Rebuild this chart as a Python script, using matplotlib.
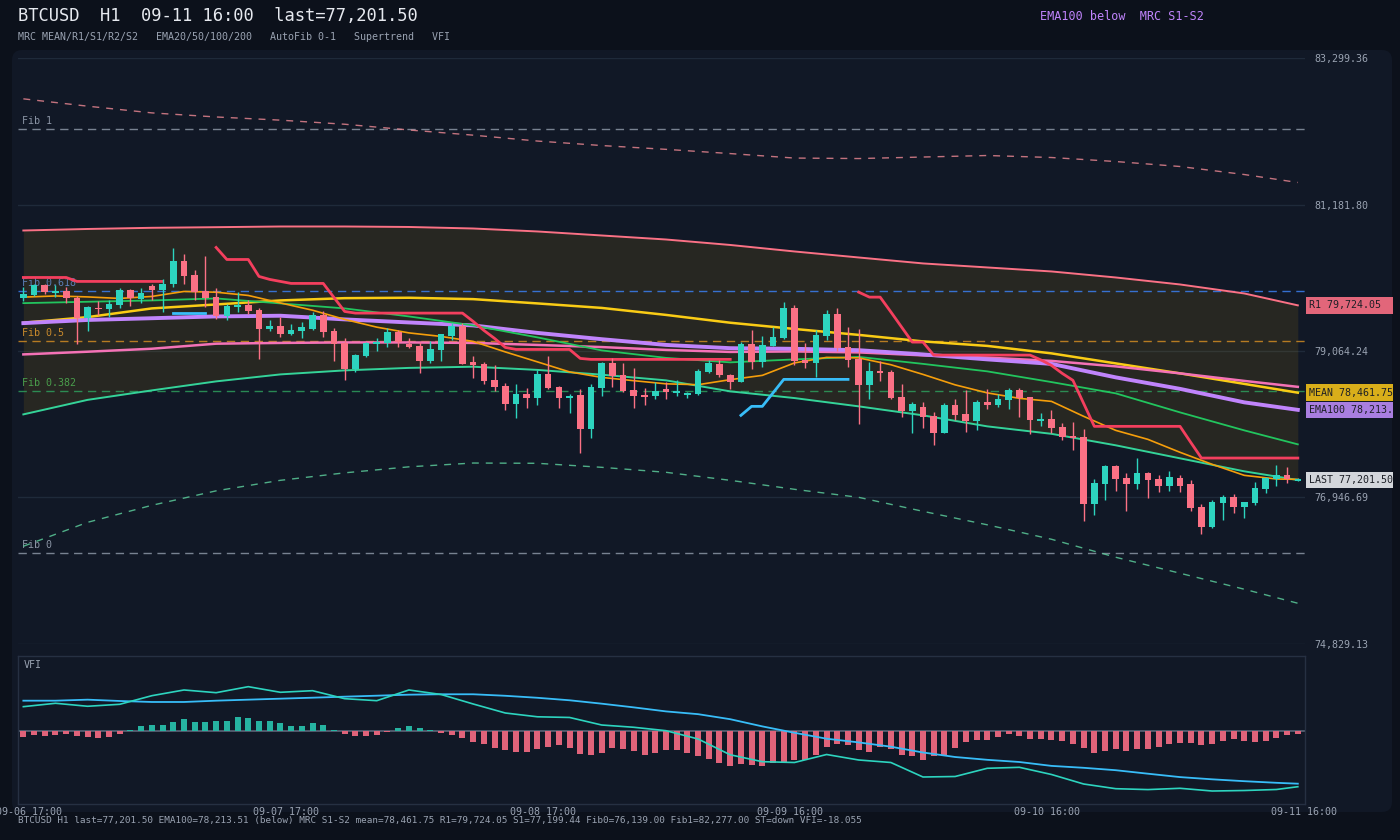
import matplotlib
matplotlib.use("Agg")
import matplotlib.pyplot as plt
import matplotlib.transforms as mtransforms
from matplotlib.patches import FancyBboxPatch, Rectangle
import numpy as np

plt.rcParams['font.family'] = ['DejaVu Sans Mono', 'DejaVu Sans']

# ------------------------------------------------------------------ data
opens = [79828, 79867, 80012, 79900, 79925, 79834, 79539, 79690, 79665, 79723,
         79940, 79810, 79997, 79940, 80036, 80358, 80156, 79925, 79838, 79568,
         79698, 79723, 79651, 79376, 79420, 79304, 79347, 79386, 79578, 79347,
         79180, 78798, 78986, 79170, 79180, 79333, 79160, 79135, 78918, 79073,
         79279, 79420, 78900, 78871, 78640, 78553, 78293, 78437, 78380, 78726,
         78538, 78380, 78423, 77932, 78524, 78885, 78712, 78495, 78423, 78408,
         78510, 78456, 78423, 78437, 78759, 78881, 78722, 78615, 79160, 78904,
         79135, 79246, 79680, 78928, 78889, 79275, 79593, 79116, 78947, 78567,
         78774, 78755, 78398, 78192, 78250, 78119, 77874, 78278, 78148, 78047,
         78322, 78278, 78351, 78495, 78394, 78047, 78076, 77960, 77830, 77816,
         76848, 77137, 77397, 77224, 77137, 77296, 77210, 77108, 77224, 77137,
         76805, 76516, 76863, 76950, 76805, 76863, 77065, 77210, 77267, 77190]
highs = [79983, 80026, 80026, 80012, 79987, 79853, 79708, 79785, 79795, 79978,
         79954, 79978, 80036, 80109, 80556, 80460, 80239, 80431, 79978, 79747,
         79911, 79805, 79690, 79506, 79554, 79458, 79482, 79626, 79640, 79395,
         79246, 79015, 79193, 79250, 79395, 79372, 79256, 79193, 79203, 79314,
         79467, 79473, 78986, 78900, 78856, 78606, 78582, 78534, 78784, 78986,
         78553, 78447, 78510, 78592, 78900, 78967, 78885, 78813, 78524, 78611,
         78611, 78640, 78466, 78798, 78928, 78939, 78726, 79188, 79362, 79275,
         79409, 79766, 79723, 79174, 79372, 79661, 79680, 79405, 79386, 78900,
         78914, 78784, 78582, 78322, 78322, 78177, 78307, 78365, 78499, 78351,
         78510, 78437, 78524, 78524, 78394, 78163, 78206, 78022, 78033, 77932,
         77210, 77411, 77411, 77296, 77513, 77311, 77267, 77325, 77267, 77195,
         76848, 76906, 76978, 76993, 76877, 77166, 77238, 77411, 77383, 77224]
lows = [79781, 79853, 79882, 79838, 79756, 79160, 79352, 79578, 79554, 79690,
        79713, 79762, 79795, 79626, 79987, 80036, 79805, 79698, 79525, 79506,
        79626, 79603, 78943, 79352, 79265, 79289, 79250, 79362, 79265, 78914,
        78640, 78759, 78972, 79058, 79121, 79121, 79102, 78745, 78889, 78918,
        79217, 78871, 78673, 78592, 78481, 78206, 78090, 78235, 78278, 78510,
        78235, 78163, 77585, 77802, 78408, 78538, 78466, 78235, 78278, 78365,
        78365, 78408, 78380, 78423, 78740, 78687, 78510, 78615, 78798, 78832,
        79135, 79236, 78860, 78823, 78687, 79227, 79063, 78832, 78004, 78365,
        78625, 78375, 78109, 77878, 77950, 77705, 77874, 78062, 77888, 77922,
        78221, 78250, 78221, 78105, 77859, 77975, 77874, 77773, 77628, 76607,
        76689, 76906, 77036, 76747, 77065, 76935, 77022, 77036, 77022, 76747,
        76415, 76502, 76617, 76718, 76646, 76834, 77007, 77108, 77152, 77180]
closes = [79882, 80012, 79915, 79929, 79828, 79539, 79694, 79665, 79742, 79940,
          79828, 79896, 79940, 80036, 80358, 80146, 79915, 79828, 79568, 79708,
          79723, 79636, 79376, 79420, 79304, 79362, 79405, 79578, 79337, 79164,
          78798, 79001, 79184, 79193, 79333, 79193, 79116, 78918, 79087, 79304,
          79420, 78881, 78856, 78625, 78538, 78293, 78437, 78384, 78726, 78524,
          78380, 78419, 77932, 78538, 78885, 78697, 78481, 78408, 78394, 78481,
          78466, 78481, 78452, 78770, 78889, 78712, 78615, 79160, 78904, 79145,
          79261, 79680, 78918, 78889, 79289, 79593, 79106, 78933, 78567, 78770,
          78745, 78384, 78192, 78293, 78105, 77874, 78278, 78134, 78047, 78322,
          78278, 78365, 78495, 78380, 78062, 78076, 77946, 77820, 77806, 76848,
          77152, 77397, 77210, 77137, 77296, 77195, 77108, 77238, 77108, 76791,
          76516, 76877, 76950, 76805, 76877, 77080, 77224, 77267, 77210, 77201.5]

time_tick_idx = [0, 24, 48, 71, 95, 119]
time_tick_labels = ['09-06 17:00', '09-07 17:00', '09-08 17:00',
                    '09-09 16:00', '09-10 16:00', '09-11 16:00']
price_ticks = [83299.36, 81181.80, 79064.24, 76946.69, 74829.13]

# MRC + slow EMAs sampled every 6 bars
band_idx = [0, 6, 12, 18, 24, 30, 36, 42, 48, 54, 60, 66, 72, 78, 84, 90,
            96, 102, 108, 114, 119]
mrc_mean = [79473, 79554, 79680, 79737, 79795, 79828, 79834, 79814, 79752, 79687,
            79586, 79473, 79383, 79297, 79203, 79138, 79030, 78885, 78741, 78589,
            78461.75]
mrc_r1 = [80806, 80828, 80845, 80854, 80864, 80864, 80857, 80835, 80792, 80734,
          80676, 80597, 80503, 80416, 80330, 80272, 80214, 80127, 80026, 79896,
          79724.05]
mrc_s1 = [78148, 78358, 78495, 78625, 78726, 78784, 78820, 78837, 78791, 78722,
          78640, 78481, 78384, 78264, 78134, 77975, 77867, 77701, 77513, 77325,
          77199.44]
mrc_r2 = [82709, 82603, 82506, 82447, 82401, 82342, 82259, 82184, 82099, 82034,
          81979, 81918, 81853, 81846, 81868, 81890, 81861, 81803, 81731, 81615,
          81500]
mrc_s2 = [76242, 76588, 76834, 77043, 77195, 77303, 77390, 77445, 77441, 77383,
          77311, 77195, 77065, 76949, 76747, 76552, 76343, 76083, 75852, 75621,
          75418]
ema50 = [79756, 79776, 79795, 79824, 79752, 79680, 79564, 79434, 79261, 79073,
         78965, 78900, 78943, 78979, 78878, 78770, 78615, 78452, 78177, 77917,
         77715]
ema100 = [79467, 79513, 79538, 79564, 79574, 79521, 79477, 79434, 79326, 79235,
          79152, 79105, 79096, 79076, 79015, 78943, 78878, 78683, 78517, 78322,
          78213.51]
ema200 = [79015, 79054, 79097, 79170, 79181, 79188, 79188, 79181, 79152, 79121,
          79080, 79051, 79058, 79044, 79001, 78969, 78921, 78842, 78741, 78632,
          78546]

# EMA20 and VFI lines sampled every 3 bars
fast_idx = [0, 3, 6, 9, 12, 15, 18, 21, 24, 27, 30, 33, 36, 39, 42, 45, 48, 51,
            54, 57, 60, 63, 66, 69, 72, 75, 78, 81, 84, 87, 90, 93, 96, 99, 102,
            105, 108, 111, 114, 117, 119]
ema20 = [79843, 79860, 79846, 79824, 79853, 79925, 79914, 79867, 79759, 79654,
         79521, 79409, 79326, 79275, 79203, 79051, 78907, 78762, 78683, 78635,
         78590, 78577, 78650, 78712, 78892, 78972, 78965, 78866, 78726, 78575,
         78459, 78380, 78336, 78120, 77917, 77787, 77600, 77426, 77267, 77214,
         77209]
vfi = [7.88, 8.98, 8.01, 8.65, 11.44, 13.29, 12.41, 14.36, 12.54, 13.06,
       10.47, 9.82, 13.29, 11.83, 8.75, 5.83, 4.60, 4.38, 1.94, 1.20,
       0.10, -2.59, -7.71, -9.95, -10.21, -7.62, -9.40, -10.21, -14.91, -14.75,
       -12.09, -11.77, -14.10, -17.18, -18.70, -18.99, -18.57, -19.45, -19.29, -18.96,
       -18.055]
vfi_signal = [9.82, 9.82, 10.15, 9.72, 9.40, 9.40, 9.82, 10.15, 10.47, 10.79,
              11.12, 11.44, 11.77, 11.90, 11.90, 11.41, 10.76, 9.95, 8.85, 7.65,
              6.35, 5.45, 3.82, 1.49, -0.58, -2.50, -3.70, -5.09, -6.97, -8.43,
              -9.34, -10.05, -11.31, -11.93, -12.71, -13.84, -14.94, -15.66, -16.27, -16.79,
              -17.08]
vfi_hist = [-1.85, -1.20, -1.52, -1.20, -0.88, -1.52, -1.85, -2.17, -1.85, -0.88,
            0.42, 1.72, 2.04, 2.04, 3.01, 3.99, 3.01, 3.01, 3.34, 3.34,
            4.64, 4.31, 3.34, 3.34, 2.69, 1.72, 1.72, 2.69, 2.04, 0.42,
            -0.88, -1.52, -1.52, -1.20, -0.23, 1.07, 1.72, 1.07, 0.42, -0.55,
            -1.20, -2.17, -3.47, -4.12, -5.41, -6.06, -6.71, -6.71, -5.74, -5.09,
            -4.44, -5.41, -7.36, -7.68, -7.03, -5.41, -5.74, -6.39, -7.68, -7.03,
            -6.06, -6.06, -7.03, -8.01, -8.98, -10.28, -11.25, -10.60, -10.92, -11.25,
            -10.28, -10.05, -9.30, -9.30, -7.68, -5.09, -4.12, -4.44, -6.06, -6.71,
            -5.09, -5.74, -7.68, -8.01, -9.30, -8.01, -8.01, -5.41, -3.47, -2.82,
            -2.82, -1.85, -0.88, -1.52, -2.50, -2.50, -2.82, -3.14, -4.12, -5.41,
            -7.03, -6.39, -5.74, -6.39, -5.74, -5.74, -5.09, -4.12, -3.79, -3.79,
            -4.44, -4.12, -3.14, -2.50, -3.14, -3.47, -3.14, -2.17, -1.20, -0.88]

# Supertrend segments (start bar, values)
st_dn1_start = 0
st_dn1 = [80127, 80127, 80127, 80127, 80127, 80070, 80070, 80070, 80070, 80070,
          80070, 80070, 80070, 80070]
st_up1_start = 14
st_up1 = [79607, 79607, 79607, 79607]
st_dn2_start = 18
st_dn2 = [80561, 80387, 80387, 80387, 80142, 80099, 80070, 80041, 80041, 80041,
          80041, 79838, 79636, 79612, 79612, 79612, 79612, 79612, 79612, 79612,
          79612, 79612, 79612, 79612, 79492, 79362, 79246, 79116, 79087, 79087,
          79087, 79087, 79087, 79087, 78957, 78943, 78943, 78943, 78943, 78943,
          78943, 78943, 78943, 78943, 78943, 78943, 78943, 78943, 78943]
st_up2_start = 67
st_up2 = [78134, 78264, 78264, 78459, 78654, 78654, 78654, 78654, 78654, 78654,
          78654]
st_dn3_start = 78
st_dn3 = [79915, 79843, 79843, 79629, 79411, 79193, 79193, 79005, 79005, 79005,
          79005, 79005, 79005, 79005, 79005, 79005, 79005, 78936, 78856, 78741,
          78640, 78307, 77975, 77975, 77975, 77975, 77975, 77975, 77975, 77975,
          77975, 77744, 77517, 77517, 77517, 77517, 77517, 77517, 77517, 77517,
          77517, 77517]

fib0 = 76139.00
fib1 = 82277.00
fib_ratios = [1, 0.618, 0.5, 0.382, 0]
fib_names = ['Fib 1', 'Fib 0.618', 'Fib 0.5', 'Fib 0.382', 'Fib 0']
fib_colors = ['#8b95a5', '#3b7ff0', '#d08b22', '#2e9d5c', '#8b95a5']
fib_text_colors = ['#8b95a5', '#5b7fb8', '#c98a2c', '#4a9e4c', '#8b95a5']

last_price = 77201.50
label_items = [('R1 79,724.05', 79724.05, '#e2667a'),
               ('MEAN 78,461.75', 78461.75, '#d9ae1a'),
               ('EMA100 78,213.51', 78213.51, '#a97ee0'),
               ('LAST 77,201.50', last_price, '#d3d6db')]

# ------------------------------------------------------------------ figure
W, H = 1400, 840
fig = plt.figure(figsize=(W / 100, H / 100), dpi=100)
fig.patch.set_facecolor('#0c111b')

panel = FancyBboxPatch((12, H - 812), 1380, 762,
                       boxstyle="round,pad=0,rounding_size=10",
                       transform=mtransforms.IdentityTransform(),
                       facecolor='#111826', edgecolor='none', zorder=0)
fig.add_artist(panel)

def fx(px):
    return px / W

def fy(py):
    return 1 - py / H

ax = fig.add_axes([fx(18), fy(644), fx(1287), 586 / H])
ax.set_facecolor('none')
for s in ax.spines.values():
    s.set_visible(False)
ax.set_xlim(-0.5, 119.67)
ax.set_ylim(min(price_ticks), max(price_ticks))
ax.set_xticks([])
ax.yaxis.tick_right()
ax.set_yticks(price_ticks)
ax.set_yticklabels([f'{v:,.2f}' for v in price_ticks])
ax.tick_params(axis='y', length=0, pad=7, labelsize=7.2, labelcolor='#9aa3b2')
for v in price_ticks:
    ax.axhline(v, color='#1f2a3a', lw=1.0, zorder=1)

# MRC band fill
ax.fill_between(band_idx, mrc_s1, mrc_r1, color='#eab308', alpha=0.10, lw=0, zorder=1)

# Fib levels
for r, name, c, tc in zip(fib_ratios, fib_names, fib_colors, fib_text_colors):
    lvl = fib0 + r * (fib1 - fib0)
    ax.axhline(lvl, color=c, lw=1.0, ls=(0, (6, 4)), alpha=0.85, zorder=2)
    ax.annotate(name, xy=(0, lvl), xycoords=('axes fraction', 'data'),
                xytext=(4, 3), textcoords='offset pixels', fontsize=7.2,
                color=tc, va='bottom', ha='left', zorder=2)

# MRC lines
ax.plot(band_idx, mrc_r2, color='#f08a95', lw=1.0, ls=(0, (5, 5)), alpha=0.8, zorder=3)
ax.plot(band_idx, mrc_s2, color='#5fd4a0', lw=1.0, ls=(0, (5, 5)), alpha=0.8, zorder=3)
ax.plot(band_idx, mrc_r1, color='#fb7185', lw=1.4, zorder=3)
ax.plot(band_idx, mrc_s1, color='#34d399', lw=1.4, zorder=3)
ax.plot(band_idx, mrc_mean, color='#facc15', lw=1.8, zorder=4)

# EMAs
ax.plot(band_idx, ema200, color='#f472b6', lw=1.8, zorder=4)
ax.plot(band_idx, ema100, color='#c084fc', lw=2.8, zorder=4)
ax.plot(band_idx, ema50, color='#22c55e', lw=1.3, zorder=4)
ax.plot(fast_idx, ema20, color='#f59e0b', lw=1.2, zorder=4)

# Supertrend
for start, seg, col in [(st_dn1_start, st_dn1, '#f43f5e'), (st_up1_start, st_up1, '#38bdf8'),
                        (st_dn2_start, st_dn2, '#f43f5e'), (st_up2_start, st_up2, '#38bdf8'),
                        (st_dn3_start, st_dn3, '#f43f5e')]:
    ax.plot(np.arange(start, start + len(seg)), seg, color=col, lw=2.0, zorder=5)

# Candles
idx = np.arange(len(closes))
o = np.array(opens, float); h = np.array(highs, float)
l = np.array(lows, float); c = np.array(closes, float)
up = c >= o
col = np.where(up, '#2dd4bf', '#fb7185')
ax.vlines(idx, l, h, colors=col, lw=1.0, zorder=6)
body_lo = np.minimum(o, c)
body_h = np.maximum(np.abs(c - o), 25)
ax.bar(idx, body_h, bottom=body_lo, width=0.62, color=col, lw=0, zorder=7)

# right-side value labels
lab = fig.add_axes([fx(1306), fy(644), fx(87), 586 / H])
lab.set_xlim(0, 1)
lab.set_ylim(ax.get_ylim())
lab.axis('off')
px_per_price = 586 / (max(price_ticks) - min(price_ticks))
half = 8.3 / px_per_price
for txt, val, bg in label_items:
    lab.add_patch(Rectangle((0, val - half), 1.2, 2 * half, facecolor=bg,
                            edgecolor='none', clip_on=True))
    lab.text(0.03, val, txt, fontsize=7.2, color='#1c1f26', va='center', ha='left',
             clip_on=True)

# ------------------------------------------------------------------ VFI panel
axv = fig.add_axes([fx(18), fy(804), fx(1287), 148 / H])
axv.set_facecolor('none')
for s in axv.spines.values():
    s.set_color('#263042')
    s.set_linewidth(1.0)
axv.set_xlim(-0.5, 119.67)
axv.set_ylim(-23.66, 24.3)
axv.set_xticks([])
axv.set_yticks([])
axv.axhline(0, color='#5b6678', lw=1.2, zorder=2)
hcol = ['#26b3a1' if v >= 0 else '#e0637a' for v in vfi_hist]
axv.bar(idx, vfi_hist, width=0.56, color=hcol, lw=0, zorder=3)
axv.plot(fast_idx, vfi_signal, color='#38bdf8', lw=1.3, zorder=4)
axv.plot(fast_idx, vfi, color='#2dd4bf', lw=1.2, zorder=5)
axv.text(6 / 1287, 1 - 9 / 148, 'VFI', transform=axv.transAxes, fontsize=7.2,
         color='#9aa3b2', va='center', ha='left')

# time labels
off = mtransforms.ScaledTranslation(6 / 100, 0, fig.dpi_scale_trans)
ttrans = mtransforms.blended_transform_factory(axv.transData, fig.transFigure) + off
for ti, tl in zip(time_tick_idx, time_tick_labels):
    fig.text(ti, fy(812), tl, transform=ttrans, ha='center', va='center',
             fontsize=7.2, color='#9aa3b2')

# ------------------------------------------------------------------ header / footer
fig.text(fx(18), fy(16), 'BTCUSD  H1  09-11 16:00  last=77,201.50', fontsize=12.3,
         color='#e6e9ef', va='center', ha='left')
fig.text(fx(18), fy(37), 'MRC MEAN/R1/S1/R2/S2   EMA20/50/100/200   AutoFib 0-1   Supertrend   VFI',
         fontsize=7.2, color='#9aa3b2', va='center', ha='left')
fig.text(fx(1040), fy(16), 'EMA100 below  MRC S1-S2', fontsize=8.5,
         color='#c084fc', va='center', ha='left')
fig.text(fx(18), fy(821),
         'BTCUSD H1 last=77,201.50 EMA100=78,213.51 (below) MRC S1-S2 mean=78,461.75 '
         'R1=79,724.05 S1=77,199.44 Fib0=76,139.00 Fib1=82,277.00 ST=down VFI=-18.055',
         fontsize=6.75, color='#9aa3b2', va='center', ha='left')

fig.savefig('out.png', dpi=100, facecolor=fig.get_facecolor())
